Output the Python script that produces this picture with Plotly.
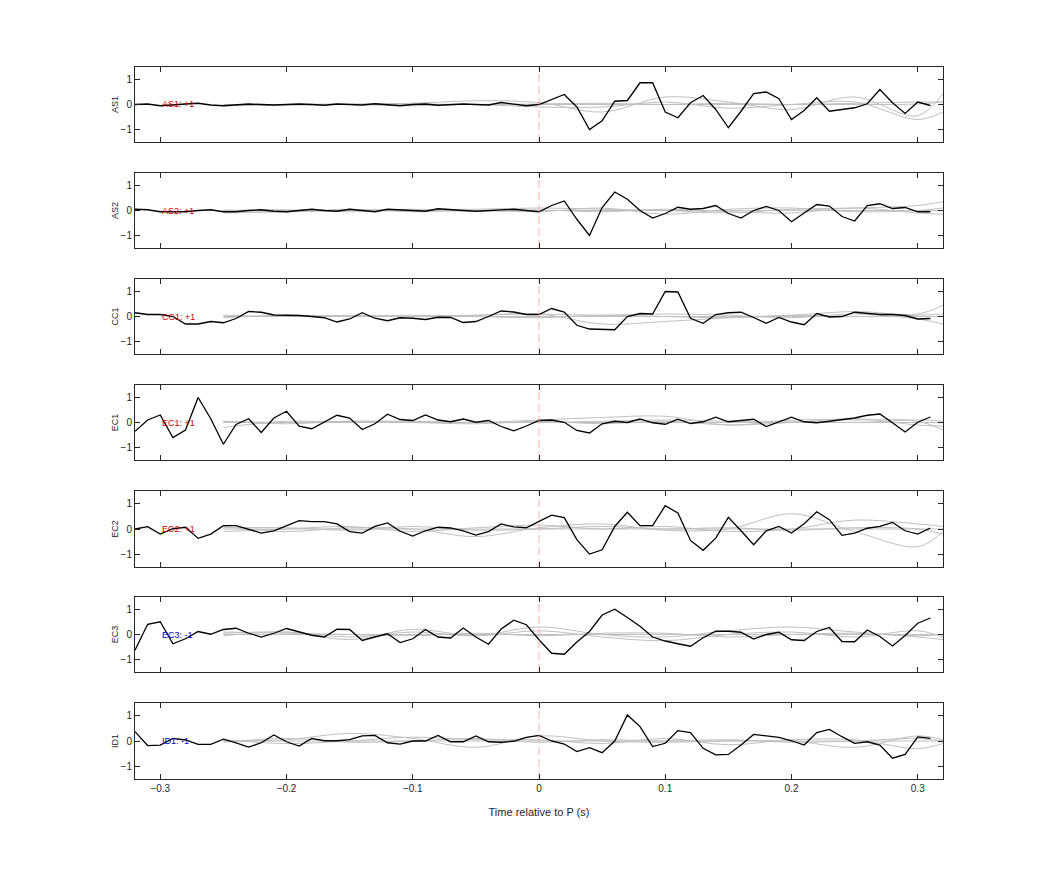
import plotly.graph_objects as go

# tiempo de las muestras (s)
t = [round(-0.32 + 0.01 * i, 2) for i in range(64)]
# rejilla de las curvas grises
tg = [-0.25, -0.2, -0.15, -0.1, -0.05, 0.0, 0.05, 0.1, 0.15, 0.2, 0.25, 0.3, 0.32]

stations = ['AS1', 'AS2', 'CC1', 'EC1', 'EC2', 'EC3', 'ID1']
polarity = ['+1', '+1', '+1', '+1', '+1', '-1', '-1']

as1 = [0.0, 0.02, -0.05, 0.0, 0.02, 0.05, -0.02, -0.05, 0.0, 0.02, 0.0, -0.02, 0.0, 0.02,
       0.0, -0.03, 0.02, 0.0, -0.02, 0.03, 0.0, -0.05, 0.0, 0.02, -0.03, 0.0, 0.02, 0.0,
       -0.02, 0.08, 0.03, -0.05, 0.0, 0.2, 0.4, -0.1, -1.0, -0.65, 0.13, 0.16, 0.87, 0.87,
       -0.3, -0.53, 0.07, 0.36, -0.2, -0.93, -0.27, 0.44, 0.5, 0.23, -0.6, -0.24, 0.27,
       -0.27, -0.2, -0.13, 0.03, 0.6, 0.07, -0.36, 0.1, -0.04]
as2 = [0.05, 0.03, -0.05, -0.05, -0.05, 0.0, 0.03, -0.05, -0.05, 0.0, 0.03, -0.03, -0.05,
       0.0, 0.05, 0.0, -0.03, 0.05, 0.0, -0.05, 0.05, 0.02, -0.02, -0.03, 0.07, 0.05, 0.0,
       -0.03, 0.0, 0.02, 0.05, 0.0, -0.05, 0.2, 0.38, -0.35, -1.0, 0.12, 0.74, 0.45, 0.0,
       -0.3, -0.12, 0.13, 0.05, 0.08, 0.2, -0.12, -0.3, 0.0, 0.16, 0.0, -0.45, -0.1, 0.24,
       0.18, -0.24, -0.42, 0.2, 0.27, 0.08, 0.12, -0.05, -0.05]
cc1 = [0.15, 0.08, 0.08, 0.0, -0.3, -0.3, -0.2, -0.25, -0.08, 0.2, 0.17, 0.06, 0.05, 0.04,
       0.0, -0.05, -0.22, -0.1, 0.15, -0.07, -0.17, -0.05, -0.07, -0.12, -0.03, -0.04,
       -0.24, -0.2, 0.0, 0.22, 0.18, 0.08, 0.08, 0.32, 0.18, -0.35, -0.5, -0.53, -0.53, 0.0,
       0.12, 0.1, 1.0, 0.98, -0.07, -0.27, 0.08, 0.15, 0.17, -0.04, -0.27, -0.04, -0.22,
       -0.33, 0.12, -0.02, 0.0, 0.17, 0.12, 0.08, 0.08, 0.04, -0.1, -0.08]
ec1 = [-0.35, 0.1, 0.3, -0.6, -0.3, 1.0, 0.15, -0.87, -0.08, 0.15, -0.4, 0.18, 0.45, -0.15,
       -0.25, 0.03, 0.29, 0.18, -0.28, -0.05, 0.33, 0.12, 0.08, 0.3, 0.1, 0.03, 0.14, 0.01,
       0.08, -0.16, -0.33, -0.14, 0.08, 0.1, 0.01, -0.32, -0.42, -0.05, 0.05, 0.0, 0.14,
       -0.01, -0.07, 0.13, -0.04, 0.03, 0.21, 0.03, 0.08, 0.13, -0.16, 0.03, 0.21, 0.03,
       -0.01, 0.05, 0.1, 0.18, 0.29, 0.34, -0.01, -0.38, 0.01, 0.22]
ec2 = [0.0, 0.09, -0.2, 0.01, 0.07, -0.37, -0.2, 0.13, 0.13, -0.03, -0.16, -0.07, 0.14,
       0.33, 0.29, 0.29, 0.2, -0.1, -0.16, 0.1, 0.24, -0.09, -0.28, -0.07, 0.07, 0.04, -0.07,
       -0.24, -0.1, 0.2, 0.08, 0.05, 0.3, 0.55, 0.45, -0.42, -0.99, -0.82, 0.1, 0.66, 0.13,
       0.13, 0.92, 0.63, -0.45, -0.84, -0.36, 0.46, -0.07, -0.62, -0.07, 0.1, -0.16, 0.21,
       0.68, 0.37, -0.25, -0.16, 0.03, 0.1, 0.26, -0.07, -0.2, 0.04]
ec3 = [-0.63, 0.41, 0.51, -0.37, -0.17, 0.12, 0.01, 0.2, 0.25, 0.05, -0.1, 0.05, 0.24, 0.09,
       -0.03, -0.1, 0.21, 0.2, -0.24, -0.1, 0.03, -0.32, -0.17, 0.2, -0.1, -0.14, 0.26, -0.1,
       -0.39, 0.22, 0.57, 0.39, -0.21, -0.75, -0.79, -0.3, 0.12, 0.78, 1.01, 0.68, 0.33,
       -0.1, -0.26, -0.37, -0.47, -0.13, 0.13, 0.13, 0.09, -0.18, 0.0, 0.09, -0.21, -0.24,
       0.12, 0.28, -0.28, -0.29, 0.18, -0.08, -0.46, -0.04, 0.45, 0.66]
id1 = [0.37, -0.18, -0.16, 0.1, 0.04, -0.13, -0.13, 0.07, -0.07, -0.24, -0.07, 0.24, -0.03,
       -0.2, 0.1, 0.01, 0.01, 0.05, 0.2, 0.22, -0.07, -0.12, 0.0, 0.0, 0.22, -0.03, -0.03,
       0.2, -0.03, -0.05, -0.01, 0.14, 0.22, 0.0, -0.12, -0.42, -0.26, -0.46, 0.0, 1.03,
       0.57, -0.22, -0.09, 0.41, 0.33, -0.29, -0.55, -0.53, -0.16, 0.26, 0.2, 0.14, 0.01,
       -0.16, 0.33, 0.46, 0.17, -0.09, -0.03, -0.16, -0.68, -0.53, 0.16, 0.1]
black = [as1, as2, cc1, ec1, ec2, ec3, id1]

# curvas grises (plantillas)
gray = [
    [[0, 0, 0.02, 0.05, 0.15, 0.08, -0.3, 0.3, 0.1, -0.2, 0.3, -0.45, 0.45],
     [-0.05, 0, 0, -0.05, 0, -0.1, -0.1, 0.1, -0.15, 0.0, 0.1, -0.6, -0.3],
     [0, 0, 0, 0, 0, 0, 0, 0, 0, 0, 0, 0.02, 0.1],
     [-0.05, -0.03, 0, 0.02, 0, 0.02, 0.05, 0, 0.05, 0, 0.05, 0.1, 0.1]],
    [[0, 0.03, -0.05, 0.03, 0.05, 0.1, 0.05, 0.0, -0.1, 0.05, 0.1, 0.2, 0.35],
     [-0.1, -0.05, 0.05, -0.05, 0.0, -0.05, 0.1, -0.15, 0.05, 0.1, -0.05, 0.0, 0.1],
     [0, 0, 0, 0, 0, 0, 0, 0, 0, 0, 0, 0, 0],
     [0.02, -0.05, 0.0, 0.05, -0.03, 0.02, -0.05, 0.05, -0.05, -0.1, 0.1, -0.1, -0.15]],
    [[0, 0, 0, 0, 0.05, 0.1, -0.3, -0.2, -0.05, 0.05, 0.2, 0.1, 0.45],
     [0.05, 0.0, 0.05, 0.0, 0.05, 0.1, 0.05, 0.1, 0.05, -0.05, 0.1, -0.1, -0.3],
     [0, 0, 0, 0, 0, 0, 0, 0, 0, 0, 0, 0, 0],
     [-0.05, 0.05, 0, 0.05, 0, -0.05, 0.05, 0.0, -0.05, 0.05, 0.0, 0.05, 0.1]],
    [[-0.2, 0.05, 0.0, 0.05, 0.0, 0.1, 0.2, 0.25, -0.1, 0.1, 0.1, 0.05, -0.3],
     [0.05, -0.05, 0.05, 0.0, -0.05, 0.05, -0.05, 0.05, -0.1, 0.0, 0.15, -0.1, -0.15],
     [0, 0, 0, 0, 0, 0, 0, 0, 0, 0, 0, 0, 0],
     [0.05, 0.0, 0.05, 0.05, 0.0, 0.0, 0.05, 0.1, 0.05, 0.05, 0.0, 0.1, 0.05]],
    [[0.1, -0.1, 0.05, 0.0, -0.3, 0.05, 0.2, -0.05, 0.0, 0.6, -0.1, -0.7, -0.1],
     [-0.1, 0.0, 0.1, -0.1, 0.05, 0.15, 0.0, 0.1, -0.1, 0.0, 0.35, 0.2, 0.1],
     [0, 0, 0, 0, 0, 0, 0, 0, 0, 0, 0, 0, 0],
     [0.05, 0.05, -0.05, 0.1, -0.05, 0.0, 0.1, 0.0, 0.05, -0.05, 0.05, 0.0, -0.2]],
    [[0.05, 0.1, -0.1, 0.1, -0.05, 0.3, 0.0, -0.1, 0.15, 0.3, 0.1, -0.05, 0.0],
     [-0.05, 0.1, -0.2, 0.2, -0.05, 0.15, -0.1, -0.25, 0.0, 0.1, -0.1, 0.15, -0.1],
     [0, 0, 0, 0, 0, 0, 0, 0, 0, 0, 0, 0, 0],
     [0.1, 0.05, 0.0, -0.05, 0.05, -0.05, 0.05, 0.05, -0.1, 0.0, 0.05, -0.1, -0.2]],
    [[0.0, 0.05, 0.3, 0.1, -0.25, 0.2, 0.0, -0.05, 0.0, 0.0, -0.25, 0.2, 0.05],
     [0.05, -0.1, 0.0, 0.15, 0.05, 0.05, -0.1, 0.1, -0.15, 0.05, 0.05, -0.3, -0.1],
     [0, 0, 0, 0, 0, 0, 0, 0, 0, 0, 0, 0, 0],
     [-0.05, 0.1, -0.05, 0.0, 0.1, -0.05, 0.05, 0.0, 0.05, -0.05, 0.0, 0.1, 0.0]],
]

tick_font = dict(family='Liberation Sans, Arial', size=10, color='#262626')
# posiciones de los paneles en pixeles (compensando el margen de la pagina)
off = 8
tops = [67, 173, 279, 385, 491, 597, 703]
bots = [142, 248, 354, 460, 567, 672, 779]
W, H = 1042, 875

fig = go.Figure()
for k, st in enumerate(stations):
    n = '' if k == 0 else str(k + 1)
    xa, ya = 'x' + n, 'y' + n
    for g in gray[k]:
        fig.add_trace(go.Scatter(x=tg, y=g, mode='lines', line=dict(color='#c0c0c0', width=1, shape='spline'),
                                 xaxis=xa, yaxis=ya, showlegend=False, hoverinfo='skip'))
    fig.add_trace(go.Scatter(x=t, y=black[k], mode='lines', line=dict(color='black', width=1.3),
                             xaxis=xa, yaxis=ya, showlegend=False))
    fig.add_trace(go.Scatter(x=[0, 0], y=[-1.5, 1.5], mode='lines',
                             line=dict(color='#f4a0a0', width=0.8, dash='8px,4px'),
                             xaxis=xa, yaxis=ya, showlegend=False, hoverinfo='skip'))
    col = '#cc0000' if polarity[k] == '+1' else '#0000cc'
    fig.add_annotation(x=-0.3, y=0, xref=xa, yref=ya, text=f'{st}: {polarity[k]}', showarrow=False,
                       xanchor='left', font=dict(family='Liberation Sans, Arial', size=9, color=col))
    axis_common = dict(showline=True, linecolor='#262626', linewidth=1, mirror='ticks', ticks='inside',
                       ticklen=5, tickcolor='#262626', showgrid=False, zeroline=False, tickfont=tick_font)
    fig.layout['xaxis' + n] = dict(axis_common, domain=[(135 - off) / W, (943 - off) / W], range=[-0.32, 0.32],
                                   tickvals=[-0.3, -0.2, -0.1, 0, 0.1, 0.2, 0.3],
                                   showticklabels=(k == 6), anchor=ya)
    fig.layout['yaxis' + n] = dict(axis_common, domain=[1 - (bots[k] - off) / H, 1 - (tops[k] - off) / H],
                                   range=[-1.5, 1.5], tickvals=[-1, 0, 1], anchor=xa,
                                   title=dict(text=st, font=dict(family='Liberation Sans, Arial', size=9, color='#262626'),
                                              standoff=0))

fig.layout['xaxis7'].title = dict(text='Time relative to P (s)',
                                  font=dict(family='Liberation Sans, Arial', size=11, color='#262626'))
fig.update_layout(width=W, height=H, margin=dict(l=0, r=0, t=0, b=0),
                  plot_bgcolor='white', paper_bgcolor='white')
fig.write_html('out.html')
